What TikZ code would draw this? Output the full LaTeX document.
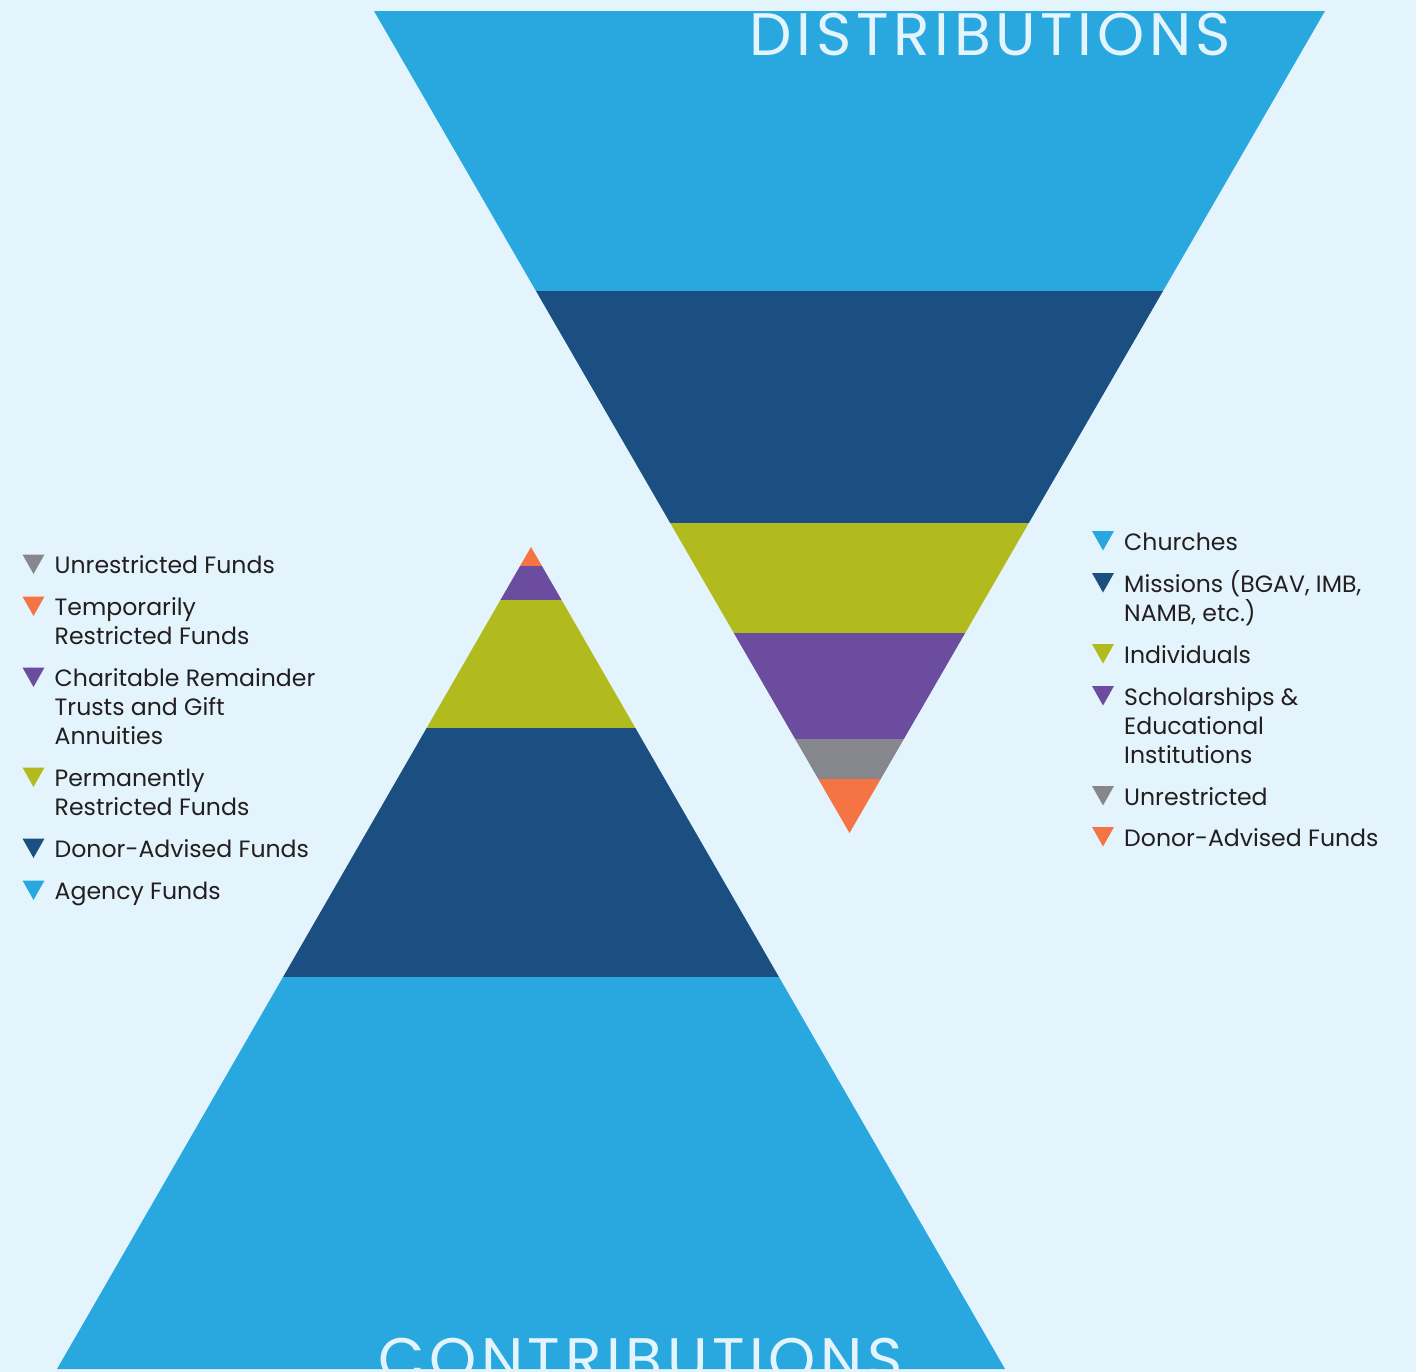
\documentclass[tikz,border=0pt]{standalone}
\usepackage{fontspec}
\setmainfont{Poppins}
\usepackage{tikz}
\usetikzlibrary{positioning}
\definecolor{bgblue}{HTML}{E4F4FC}
\definecolor{skyblue}{HTML}{29A8E0}
\definecolor{navyblue}{HTML}{1B4F81}
\definecolor{olive}{HTML}{B2BB1E}
\definecolor{violet}{HTML}{6B4C9E}
\definecolor{slate}{HTML}{85878C}
\definecolor{coral}{HTML}{F47444}
\definecolor{inkblack}{HTML}{231F20}
\tikzstyle{legtext} = [anchor=base west, inner sep=0pt, text=inkblack,
    font=\fontsize{23.6}{29}\selectfont]
\tikzstyle{bigtitle} = [anchor=base, inner sep=0pt, text=bgblue,
    font=\fontsize{60}{60}\selectfont\addfontfeatures{LetterSpace=7.8}]

\begin{document}
\begin{tikzpicture}[x=1pt,y=-1pt]

\fill[bgblue] (0,0) rectangle (1416,1372);

% distributions funnel
\begin{scope}
\clip (374,11) -- (1325,11) -- (849.5,833) -- cycle;
\foreach \ya/\yb/\col in {11/291/skyblue, 291/523/navyblue, 523/633/olive,
    633/739/violet, 739/779/slate, 779/840/coral}
  \fill[\col] (300,\ya) rectangle (1400,\yb);
\node[bigtitle] (dist) at (990.5,56) {DISTRIBUTIONS};
\end{scope}

% contributions pyramid
\begin{scope}
\clip (531,547) -- (1005,1369) -- (57,1369) -- cycle;
\foreach \ya/\yb/\col in {540/566/coral, 566/600/violet, 600/728/olive,
    728/977/navyblue, 977/1372/skyblue}
  \fill[\col] (0,\ya) rectangle (1100,\yb);
\node[bigtitle] (contr) at (640.5,1380) {CONTRIBUTIONS};
\end{scope}

% left legend
\node[legtext] (l1) at (54.5,573.5) {%
    \begin{minipage}[t]{300pt}\raggedright
      Unrestricted Funds
    \end{minipage}};
\node[legtext, below=42pt of l1.base west, anchor=base west] (l2) {%
    \begin{minipage}[t]{300pt}\raggedright
      Temporarily\\Restricted Funds
    \end{minipage}};
\node[legtext, below=71pt of l2.base west, anchor=base west] (l3) {%
    \begin{minipage}[t]{300pt}\raggedright
      Charitable Remainder\\Trusts and Gift\\Annuities
    \end{minipage}};
\node[legtext, below=100pt of l3.base west, anchor=base west] (l4) {%
    \begin{minipage}[t]{300pt}\raggedright
      Permanently\\Restricted Funds
    \end{minipage}};
\node[legtext, below=71pt of l4.base west, anchor=base west] (l5) {%
    \begin{minipage}[t]{300pt}\raggedright
      Donor-Advised Funds
    \end{minipage}};
\node[legtext, below=42pt of l5.base west, anchor=base west] (l6) {%
    \begin{minipage}[t]{300pt}\raggedright
      Agency Funds
    \end{minipage}};

% right legend
\node[legtext] (r1) at (1124,550) {%
    \begin{minipage}[t]{290pt}\raggedright
      Churches
    \end{minipage}};
\node[legtext, below=42pt of r1.base west, anchor=base west] (r2) {%
    \begin{minipage}[t]{290pt}\raggedright
      Missions (BGAV, IMB,\\NAMB, etc.)
    \end{minipage}};
\node[legtext, below=71pt of r2.base west, anchor=base west] (r3) {%
    \begin{minipage}[t]{290pt}\raggedright
      Individuals
    \end{minipage}};
\node[legtext, below=42pt of r3.base west, anchor=base west] (r4) {%
    \begin{minipage}[t]{290pt}\raggedright
      Scholarships \&\\Educational\\Institutions
    \end{minipage}};
\node[legtext, below=100pt of r4.base west, anchor=base west] (r5) {%
    \begin{minipage}[t]{290pt}\raggedright
      Unrestricted
    \end{minipage}};
\node[legtext, below=41pt of r5.base west, anchor=base west] (r6) {%
    \begin{minipage}[t]{290pt}\raggedright
      Donor-Advised Funds
    \end{minipage}};

% markers
\foreach \n/\col in {l1/slate, l2/coral, l3/violet, l4/olive, l5/navyblue,
    l6/skyblue, r1/skyblue, r2/navyblue, r3/olive, r4/violet, r5/slate, r6/coral}
  \fill[\col] (\n.base west) ++(-32,-19) -- ++(22,0) -- ++(-11,19.5) -- cycle;

\end{tikzpicture}
\end{document}
